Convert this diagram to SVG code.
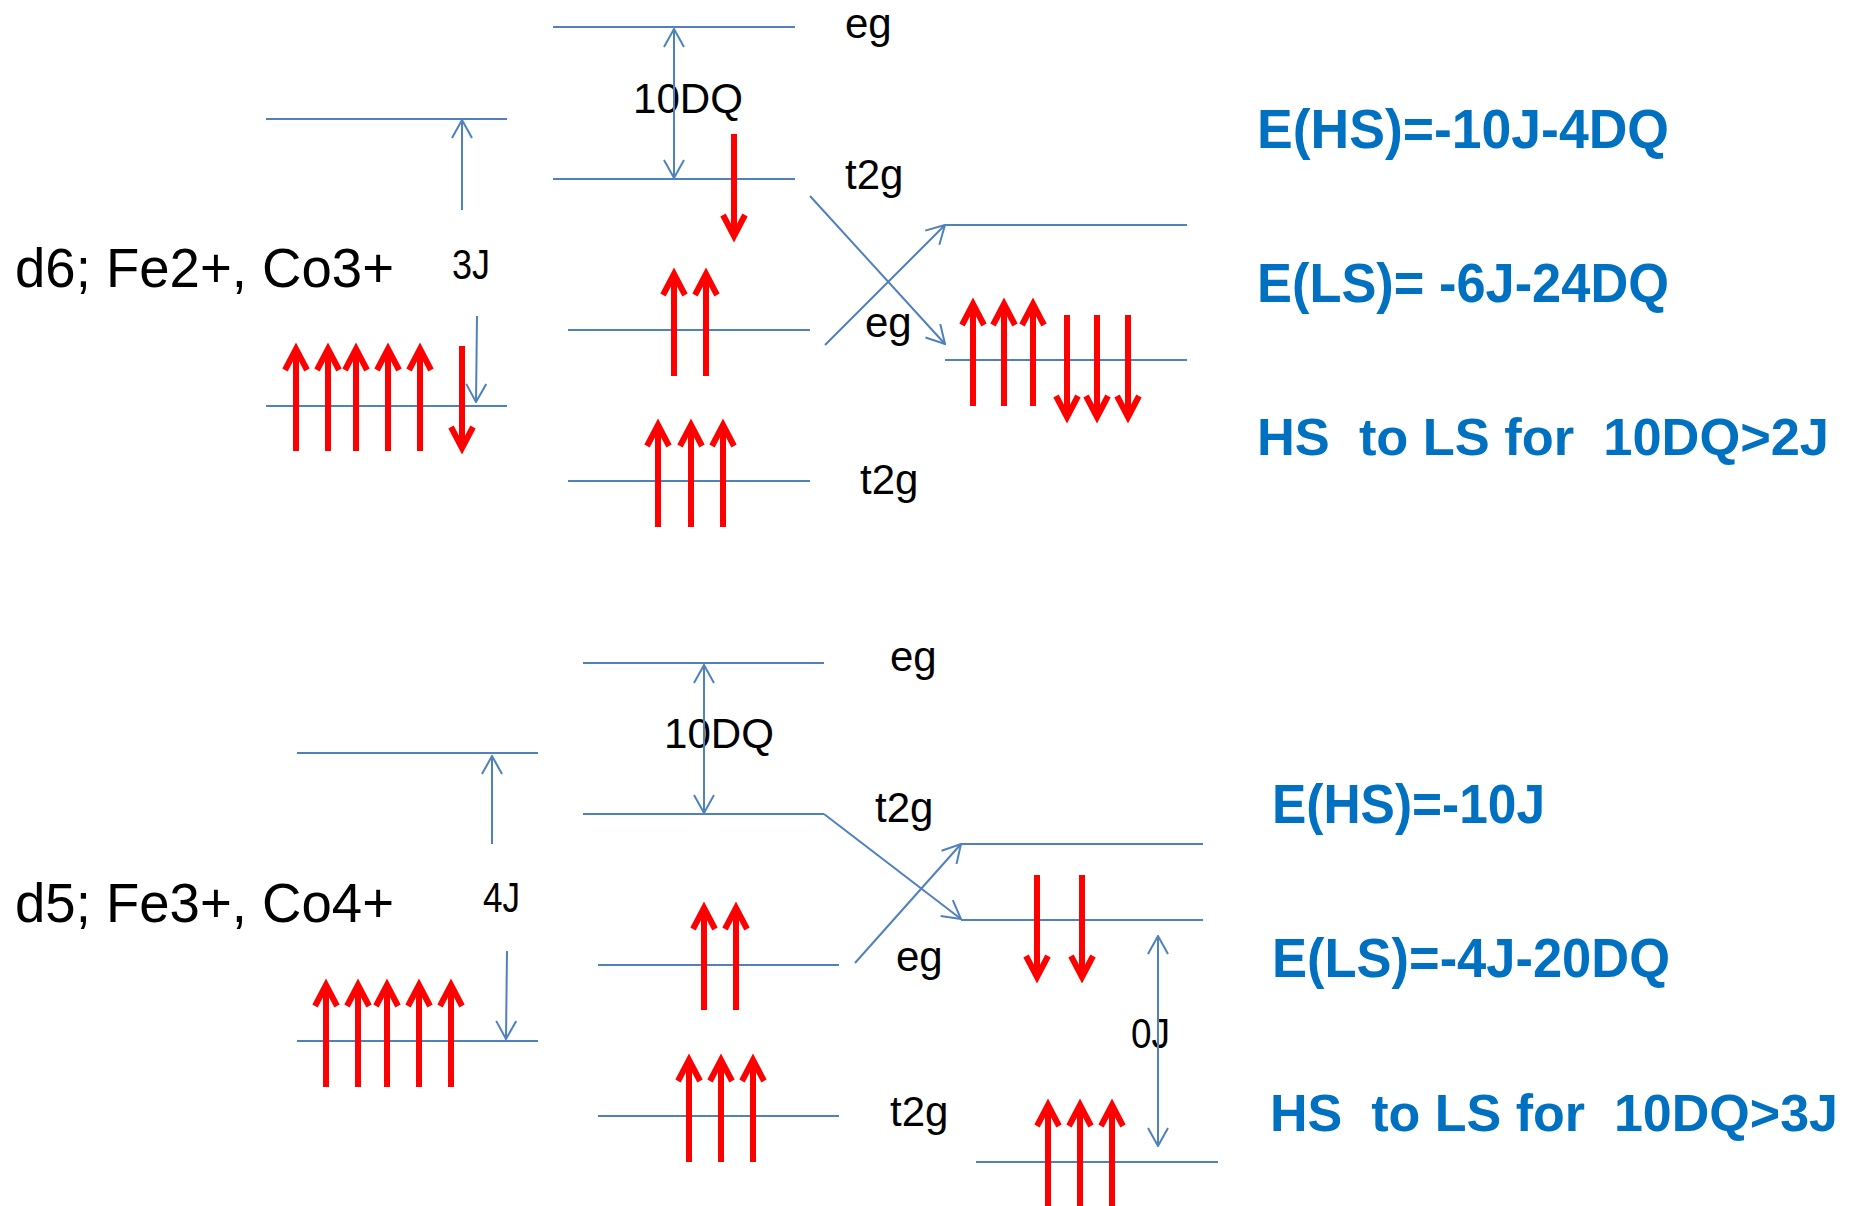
<svg xmlns="http://www.w3.org/2000/svg" xmlns:xlink="http://www.w3.org/1999/xlink" width="1857" height="1206" viewBox="0 0 1857 1206">
<style>
.lvl{stroke:#4F81BD;stroke-width:2;fill:none}
.con{stroke:#4F81BD;stroke-width:2;fill:none}
.red{stroke:#FF0000;stroke-width:6;fill:none;stroke-linejoin:miter}
.lab{font-family:"Liberation Sans",Arial,sans-serif;font-size:42px;fill:#000}
.big{font-family:"Liberation Sans",Arial,sans-serif;font-size:55px;fill:#000}
.eq{font-family:"Liberation Sans",Arial,sans-serif;font-size:55px;font-weight:bold;fill:#0070C0}
.eqs{font-size:52px}
</style>
<defs>
<marker id="ah" markerUnits="userSpaceOnUse" viewBox="0 0 20 22" markerWidth="20" markerHeight="22" refX="19" refY="11" orient="auto-start-reverse">
<path d="M1,1 L19,11 L1,21" fill="none" stroke="#4F81BD" stroke-width="2"/>
</marker>
<g id="up"><path class="red" d="M0,105 V4 M-11,24 L0,3 L11,24"/></g>
<g id="dn"><path class="red" d="M0,0 V101 M-11,81 L0,102 L11,81"/></g>
</defs>
<rect width="1857" height="1206" fill="#fff"/>

<!-- Top: d6 -->
<g id="d6-title"><text class="big" x="15" y="287" textLength="379" lengthAdjust="spacingAndGlyphs">d6; Fe2+, Co3+</text></g>
<g id="d6-free">
<line class="lvl" x1="266" y1="119" x2="507" y2="119"/>
<line class="lvl" x1="266" y1="406" x2="507" y2="406"/>
<use xlink:href="#up" x="296" y="346"/><use xlink:href="#up" x="328" y="346"/><use xlink:href="#up" x="356" y="346"/><use xlink:href="#up" x="388" y="346"/><use xlink:href="#up" x="420" y="346"/>
<use xlink:href="#dn" x="462" y="346"/>
<text class="lab" x="452" y="279" textLength="38" lengthAdjust="spacingAndGlyphs">3J</text>
</g>
<g id="d6-hs">
<line class="lvl" x1="553" y1="27" x2="795" y2="27"/>
<line class="lvl" x1="553" y1="179" x2="795" y2="179"/>
<line class="lvl" x1="568" y1="330" x2="810" y2="330"/>
<line class="lvl" x1="568" y1="481" x2="810" y2="481"/>
<text class="lab" x="845" y="38">eg</text>
<text class="lab" x="845" y="189">t2g</text>
<text class="lab" x="865" y="337">eg</text>
<text class="lab" x="860" y="494">t2g</text>
<text class="lab" x="633" y="113" textLength="110" lengthAdjust="spacingAndGlyphs">10DQ</text>
<use xlink:href="#dn" x="734" y="134"/>
<use xlink:href="#up" x="674" y="271"/><use xlink:href="#up" x="706" y="271"/>
<use xlink:href="#up" x="658" y="422"/><use xlink:href="#up" x="691" y="422"/><use xlink:href="#up" x="723" y="422"/>
</g>
<g id="d6-ls">
<line class="lvl" x1="945" y1="225" x2="1187" y2="225"/>
<line class="lvl" x1="945" y1="360" x2="1187" y2="360"/>
<use xlink:href="#up" x="973" y="301"/><use xlink:href="#up" x="1004" y="301"/><use xlink:href="#up" x="1033" y="301"/>
<use xlink:href="#dn" x="1067" y="315"/><use xlink:href="#dn" x="1097" y="315"/><use xlink:href="#dn" x="1128" y="315"/>
</g>
<g id="d6-eq">
<text class="eq" x="1257" y="148" textLength="412" lengthAdjust="spacingAndGlyphs">E(HS)=-10J-4DQ</text>
<text class="eq" x="1257" y="302" textLength="412" lengthAdjust="spacingAndGlyphs" xml:space="preserve">E(LS)= -6J-24DQ</text>
<text class="eq eqs" x="1257" y="455" textLength="572" lengthAdjust="spacingAndGlyphs" xml:space="preserve">HS  to LS for  10DQ&gt;2J</text>
</g>

<!-- Bottom: d5 -->
<g id="d5-title"><text class="big" x="15" y="922" textLength="379" lengthAdjust="spacingAndGlyphs">d5; Fe3+, Co4+</text></g>
<g id="d5-free">
<line class="lvl" x1="297" y1="753" x2="538" y2="753"/>
<line class="lvl" x1="297" y1="1041" x2="538" y2="1041"/>
<use xlink:href="#up" x="326" y="982"/><use xlink:href="#up" x="358" y="982"/><use xlink:href="#up" x="387" y="982"/><use xlink:href="#up" x="419" y="982"/><use xlink:href="#up" x="451" y="982"/>
<text class="lab" x="483" y="912" textLength="37" lengthAdjust="spacingAndGlyphs">4J</text>
</g>
<g id="d5-hs">
<line class="lvl" x1="583" y1="663" x2="824" y2="663"/>
<line class="lvl" x1="583" y1="814" x2="824" y2="814"/>
<line class="lvl" x1="598" y1="965" x2="839" y2="965"/>
<line class="lvl" x1="598" y1="1116" x2="839" y2="1116"/>
<text class="lab" x="890" y="671">eg</text>
<text class="lab" x="875" y="822">t2g</text>
<text class="lab" x="896" y="971">eg</text>
<text class="lab" x="890" y="1126">t2g</text>
<text class="lab" x="664" y="748" textLength="110" lengthAdjust="spacingAndGlyphs">10DQ</text>
<use xlink:href="#up" x="704" y="905"/><use xlink:href="#up" x="736" y="905"/>
<use xlink:href="#up" x="689" y="1057"/><use xlink:href="#up" x="721" y="1057"/><use xlink:href="#up" x="753" y="1057"/>
</g>
<g id="d5-ls">
<line class="lvl" x1="961" y1="844" x2="1203" y2="844"/>
<line class="lvl" x1="961" y1="920" x2="1203" y2="920"/>
<line class="lvl" x1="976" y1="1162" x2="1218" y2="1162"/>
<use xlink:href="#dn" x="1037" y="875"/><use xlink:href="#dn" x="1082" y="875"/>
<use xlink:href="#up" x="1048" y="1102"/><use xlink:href="#up" x="1080" y="1102"/><use xlink:href="#up" x="1112" y="1102"/>
<text class="lab" x="1131" y="1048" textLength="39" lengthAdjust="spacingAndGlyphs">0J</text>
</g>
<g id="d5-eq">
<text class="eq" x="1272" y="823" textLength="273" lengthAdjust="spacingAndGlyphs">E(HS)=-10J</text>
<text class="eq" x="1272" y="977" textLength="398" lengthAdjust="spacingAndGlyphs">E(LS)=-4J-20DQ</text>
<text class="eq eqs" x="1270" y="1131" textLength="568" lengthAdjust="spacingAndGlyphs" xml:space="preserve">HS  to LS for  10DQ&gt;3J</text>
</g>

<g id="connectors">
<line class="con" x1="674" y1="29" x2="674" y2="178" marker-start="url(#ah)" marker-end="url(#ah)"/>
<line class="con" x1="462" y1="210" x2="462" y2="120" marker-end="url(#ah)"/>
<line class="con" x1="477" y1="316" x2="476" y2="402" marker-end="url(#ah)"/>
<line class="con" x1="810" y1="196" x2="945" y2="344" marker-end="url(#ah)"/>
<line class="con" x1="825" y1="345" x2="945" y2="225" marker-end="url(#ah)"/>
<line class="con" x1="704" y1="665" x2="704" y2="813" marker-start="url(#ah)" marker-end="url(#ah)"/>
<line class="con" x1="492" y1="844" x2="492" y2="756" marker-end="url(#ah)"/>
<line class="con" x1="507" y1="951" x2="506" y2="1039" marker-end="url(#ah)"/>
<line class="con" x1="824" y1="814" x2="961" y2="919" marker-end="url(#ah)"/>
<line class="con" x1="855" y1="963" x2="961" y2="844" marker-end="url(#ah)"/>
<line class="con" x1="1158" y1="936" x2="1158" y2="1146" marker-start="url(#ah)" marker-end="url(#ah)"/>
</g>
</svg>
